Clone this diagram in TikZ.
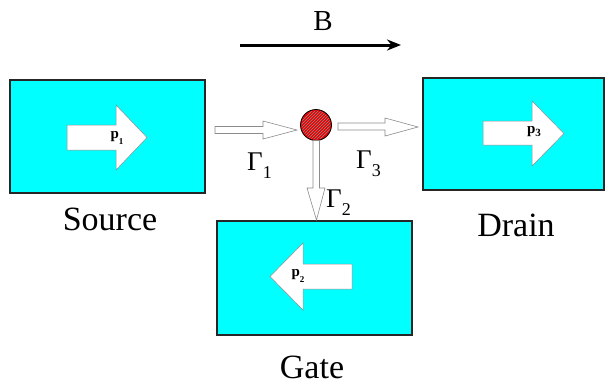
\documentclass[tikz,border=0pt]{standalone}
\usepackage{fontspec}
\setmainfont{Liberation Serif}
\usetikzlibrary{patterns,arrows.meta}
\definecolor{boxcyan}{RGB}{0,255,255}
\definecolor{dotred}{RGB}{235,0,0}
\begin{document}
\begin{tikzpicture}[x=1pt,y=-1pt,
  region/.style={draw=black!85,line width=1.4pt,fill=boxcyan,inner sep=0pt},
  bigarrow/.style={draw=black!45,fill=white,line width=0.5pt},
  fluxarrow/.style={draw=black!45,fill=white,line width=0.6pt},
  lbl/.style={font=\fontsize{34}{38}\selectfont},
  plbl/.style={font=\fontsize{15}{17}\selectfont\bfseries,inner sep=0pt},
  glbl/.style={font=\fontsize{27}{30}\selectfont,inner sep=0pt}]
\useasboundingbox (0,0) rectangle (605,384);
% regions
\node[region,minimum width=195pt,minimum height=113pt] (src) at (107.5,136.5) {};
\node[region,minimum width=181pt,minimum height=112pt] (drn) at (513.5,134) {};
\node[region,minimum width=195pt,minimum height=114pt] (gate) at (314.5,278) {};
% momentum arrows
\draw[bigarrow] (67,125)--(116,125)--(116,105)--(147,137.5)--(116,170)--(116,150)--(67,150)--cycle;
\draw[bigarrow] (483,121)--(532,121)--(532,101)--(564,133.5)--(532,166)--(532,145)--(483,145)--cycle;
\draw[bigarrow] (352,264)--(303,264)--(303,243)--(270,276.5)--(303,310)--(303,289)--(352,289)--cycle;
\node[plbl] (p1) at (117,138) {p\raisebox{-0.35em}{\fontsize{9}{10}\selectfont 1}};
\node[plbl] (p3) at (534,132) {p\raisebox{-0.2em}{\fontsize{11}{12}\selectfont 3}};
\node[plbl] (p2) at (298,276) {p\raisebox{-0.35em}{\fontsize{9}{10}\selectfont 2}};
% dot
\node[circle,draw=black,line width=0.8pt,fill=dotred,minimum size=31pt,inner sep=0pt] (dot) at (316,125) {};
\fill[pattern=north east lines,pattern color=black!45] (dot) circle (14.5pt);
% flux arrows
\draw[fluxarrow] (215,126.5)--(263,126.5)--(263,121)--(297,130)--(263,139)--(263,133.5)--(215,133.5)--cycle;
\draw[fluxarrow] (338,123)--(385,123)--(385,118)--(418,127)--(385,136)--(385,130)--(338,130)--cycle;
\draw[fluxarrow] (313,140.5)--(313,188)--(307,188)--(316.5,220)--(325,188)--(319.5,188)--(319.5,140.5)--cycle;
% gamma labels
\node[glbl,anchor=base west] (g1) at (247,170) {Γ\raisebox{-0.3em}{\fontsize{18}{20}\selectfont 1}};
\node[glbl,anchor=base west] (g3) at (356,168) {Γ\raisebox{-0.3em}{\fontsize{18}{20}\selectfont 3}};
\node[glbl,anchor=base west] (g2) at (326,207) {Γ\raisebox{-0.3em}{\fontsize{18}{20}\selectfont 2}};
% region names
\node[lbl] (srcl) at (110,219) {Source};
\node[lbl] (drnl) at (516,225) {Drain};
\node[lbl] (gatel) at (312,367) {Gate};
% B field
\coordinate (b0) at (240,45);
\coordinate (b1) at (401,45);
\draw[line width=3pt,-{Stealth[length=14pt,width=11pt]}] (b0) -- (b1);
\node[font=\fontsize{29}{32}\selectfont] (B) at (323,21) {B};
\end{tikzpicture}
\end{document}
